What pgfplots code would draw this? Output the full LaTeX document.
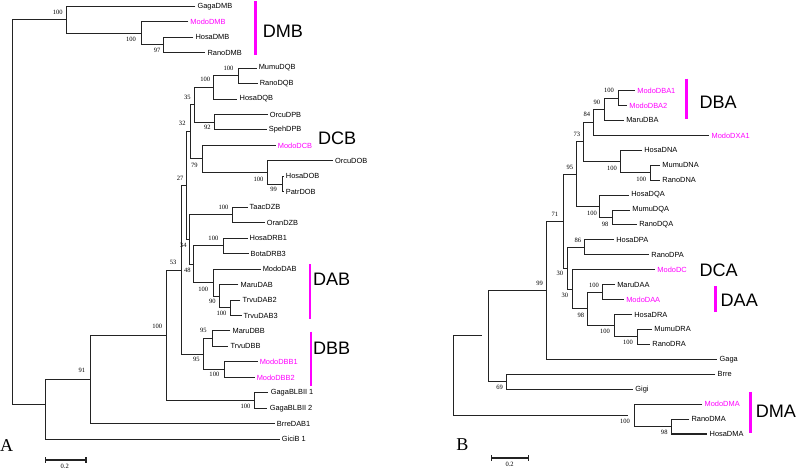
\documentclass[border=0pt]{standalone}
\usepackage{pgfplots}
\pgfplotsset{compat=1.18}
\usepackage{fontspec}
\setmainfont{Liberation Serif}
\newfontfamily\arial{Liberation Sans}
\definecolor{mg}{RGB}{255,0,255}
\definecolor{ln}{RGB}{35,35,35}
\tikzset{tip/.style={anchor=west,font=\arial\fontsize{7.4}{8}\selectfont,inner sep=0pt},
 tipm/.style={tip,text=mg},
 bs/.style={font=\fontsize{6.5}{7}\selectfont,inner sep=0pt},
 grp/.style={anchor=west,font=\arial\fontsize{18}{20}\selectfont,inner sep=0pt}}
\pgfplotsset{br/.style={no marks,line width=1pt,color=ln},
 bar/.style={no marks,line width=2.4pt,color=mg}}
\begin{document}
\begin{tikzpicture}
\begin{axis}[width=796pt,height=466pt,scale only axis,hide axis,
 xmin=0,xmax=796,ymin=0,ymax=466,y dir=reverse,clip=false]
% ---------------- tree A ----------------
\addplot[br] coordinates {(193,35.8)(163,35.8)(163,51.2)(205,51.2)};
\addplot[br] coordinates {(188,20.4)(141,20.4)(141,43.5)(163,43.5)};
\addplot[br] coordinates {(195,5)(67,5)(67,32)(141,32)};
\addplot[br] coordinates {(256,66.6)(238,66.6)(238,82)(257,82)};
\addplot[br] coordinates {(238,74.3)(213,74.3)(213,97.4)(237,97.4)};
\addplot[br] coordinates {(267,112.8)(214,112.8)(214,128.2)(266,128.2)};
\addplot[br] coordinates {(213,85.9)(194,85.9)(194,120.5)(214,120.5)};
\addplot[br] coordinates {(283,174.4)(282,174.4)(282,189.8)(283,189.8)};
\addplot[br] coordinates {(332,159)(267,159)(267,182.1)(282,182.1)};
\addplot[br] coordinates {(275,143.6)(202,143.6)(202,170.6)(267,170.6)};
\addplot[br] coordinates {(194,103.2)(190,103.2)(190,157.1)(202,157.1)};
\addplot[br] coordinates {(247,205.2)(232,205.2)(232,220.6)(264,220.6)};
\addplot[br] coordinates {(247,236)(223,236)(223,251.4)(248,251.4)};
\addplot[br] coordinates {(240,297.6)(230,297.6)(230,313)(241,313)};
\addplot[br] coordinates {(238,282.2)(219,282.2)(219,305.3)(230,305.3)};
\addplot[br] coordinates {(260,266.8)(213,266.8)(213,293.8)(219,293.8)};
\addplot[br] coordinates {(223,243.7)(193,243.7)(193,280.3)(213,280.3)};
\addplot[br] coordinates {(232,212.9)(189,212.9)(189,262)(193,262)};
\addplot[br] coordinates {(190,130.2)(186,130.2)(186,237.5)(189,237.5)};
\addplot[br] coordinates {(230,328.4)(212,328.4)(212,343.8)(228,343.8)};
\addplot[br] coordinates {(257,359.2)(224,359.2)(224,374.6)(254,374.6)};
\addplot[br] coordinates {(212,336.1)(203,336.1)(203,366.9)(224,366.9)};
\addplot[br] coordinates {(186,183.8)(181,183.8)(181,351.5)(203,351.5)};
\addplot[br] coordinates {(267,390)(254,390)(254,405.4)(266,405.4)};
\addplot[br] coordinates {(181,267.7)(166,267.7)(166,397.7)(254,397.7)};
\addplot[br] coordinates {(166,332.7)(91,332.7)(91,420.8)(274,420.8)};
\addplot[br] coordinates {(91,376.8)(46,376.8)(46,436.2)(279,436.2)};
\addplot[br] coordinates {(67,18.5)(13,18.5)(13,402)(46,402)};
% scale bar A
\addplot[br,line width=1.3pt] coordinates {(46,457)(86,457)};
\addplot[br,line width=1.3pt] coordinates {(46,454)(46,460)};
\addplot[br,line width=1.3pt] coordinates {(86,454)(86,460)};
% bars A
\addplot[bar] coordinates {(255,0)(255,54)};
\addplot[bar] coordinates {(309,262)(309,316)};
\addplot[bar] coordinates {(310,329)(310,383)};
% ---------------- tree B ----------------
\addplot[br] coordinates {(633,89)(616,89)(616,103.9)(625,103.9)};
\addplot[br] coordinates {(616,96.5)(602,96.5)(602,118.7)(622,118.7)};
\addplot[br] coordinates {(602,107.6)(592,107.6)(592,133.6)(707,133.6)};
\addplot[br] coordinates {(658,163.4)(648,163.4)(648,178.2)(658,178.2)};
\addplot[br] coordinates {(640,148.5)(618,148.5)(618,170.8)(648,170.8)};
\addplot[br] coordinates {(592,120.6)(582,120.6)(582,159.7)(618,159.7)};
\addplot[br] coordinates {(628,208)(610,208)(610,222.8)(635,222.8)};
\addplot[br] coordinates {(627,193.1)(598,193.1)(598,215.4)(610,215.4)};
\addplot[br] coordinates {(582,140.1)(575,140.1)(575,204.3)(598,204.3)};
\addplot[br] coordinates {(612,237.7)(583,237.7)(583,252.6)(647,252.6)};
\addplot[br] coordinates {(613,282.3)(600,282.3)(600,297.2)(622,297.2)};
\addplot[br] coordinates {(650,326.9)(635,326.9)(635,341.8)(648,341.8)};
\addplot[br] coordinates {(630,312.1)(612,312.1)(612,334.3)(635,334.3)};
\addplot[br] coordinates {(600,289.7)(586,289.7)(586,323.2)(612,323.2)};
\addplot[br] coordinates {(653,267.4)(571,267.4)(571,306.5)(586,306.5)};
\addplot[br] coordinates {(583,245.1)(566,245.1)(566,287)(571,287)};
\addplot[br] coordinates {(575,172.2)(562,172.2)(562,266)(566,266)};
\addplot[br] coordinates {(562,219.1)(545,219.1)(545,356.7)(715,356.7)};
\addplot[br] coordinates {(713,371.5)(505,371.5)(505,386.4)(631,386.4)};
\addplot[br] coordinates {(545,287.9)(487,287.9)(487,379)(505,379)};
\addplot[br] coordinates {(687,416.1)(669,416.1)(669,431)(705,431)};
\addplot[br] coordinates {(700,401.3)(632,401.3)(632,423.6)(669,423.6)};
\addplot[br] coordinates {(480,333.4)(452,333.4)(452,412.4)(626,412.4)};
% scale bar B
\addplot[br,line width=1.3pt] coordinates {(490,455)(527,455)};
\addplot[br,line width=1.3pt] coordinates {(490,452)(490,458)};
\addplot[br,line width=1.3pt] coordinates {(527,452)(527,458)};
% bars B
\addplot[bar] coordinates {(684,77)(684,117)};
\addplot[bar] coordinates {(713,284)(713,310)};
\addplot[bar] coordinates {(748,389)(748,430)};
% ---------------- labels A ----------------
\node[tip] at (axis cs:197,5) {GagaDMB};
\node[tipm] at (axis cs:190,20.4) {ModoDMB};
\node[tip] at (axis cs:195,35.8) {HosaDMB};
\node[tip] at (axis cs:207,51.2) {RanoDMB};
\node[tip] at (axis cs:258,66.6) {MumuDQB};
\node[tip] at (axis cs:259,82) {RanoDQB};
\node[tip] at (axis cs:239,97.4) {HosaDQB};
\node[tip] at (axis cs:269,112.8) {OrcuDPB};
\node[tip] at (axis cs:268,128.2) {SpehDPB};
\node[tipm] at (axis cs:277,143.6) {ModoDCB};
\node[tip] at (axis cs:334,159) {OrcuDOB};
\node[tip] at (axis cs:285,174.4) {HosaDOB};
\node[tip] at (axis cs:285,189.8) {PatrDOB};
\node[tip] at (axis cs:249,205.2) {TaacDZB};
\node[tip] at (axis cs:266,220.6) {OranDZB};
\node[tip] at (axis cs:249,236) {HosaDRB1};
\node[tip] at (axis cs:250,251.4) {BotaDRB3};
\node[tip] at (axis cs:262,266.8) {ModoDAB};
\node[tip] at (axis cs:240,282.2) {MaruDAB};
\node[tip] at (axis cs:242,297.6) {TrvuDAB2};
\node[tip] at (axis cs:243,313) {TrvuDAB3};
\node[tip] at (axis cs:232,328.4) {MaruDBB};
\node[tip] at (axis cs:230,343.8) {TrvuDBB};
\node[tipm] at (axis cs:259,359.2) {ModoDBB1};
\node[tipm] at (axis cs:256,374.6) {ModoDBB2};
\node[tip] at (axis cs:270,390) {GagaBLBII 1};
\node[tip] at (axis cs:269,405.4) {GagaBLBII 2};
\node[tip] at (axis cs:276,420.8) {BrreDAB1};
\node[tip] at (axis cs:281,436.2) {GiciB 1};
% bootstrap A
\node[bs] at (axis cs:58,11) {100};
\node[bs] at (axis cs:131,38) {100};
\node[bs] at (axis cs:157,49) {97};
\node[bs] at (axis cs:228,67) {100};
\node[bs] at (axis cs:205,78) {100};
\node[bs] at (axis cs:187,96) {35};
\node[bs] at (axis cs:207,126) {92};
\node[bs] at (axis cs:182,122) {32};
\node[bs] at (axis cs:194,163) {79};
\node[bs] at (axis cs:258,177) {100};
\node[bs] at (axis cs:273,187) {99};
\node[bs] at (axis cs:180,176) {27};
\node[bs] at (axis cs:223,205) {100};
\node[bs] at (axis cs:183,243) {34};
\node[bs] at (axis cs:213,236) {100};
\node[bs] at (axis cs:187,268) {48};
\node[bs] at (axis cs:203,287) {100};
\node[bs] at (axis cs:212,299) {90};
\node[bs] at (axis cs:221,311) {100};
\node[bs] at (axis cs:173,260) {53};
\node[bs] at (axis cs:203,328) {95};
\node[bs] at (axis cs:196,357) {95};
\node[bs] at (axis cs:214,372) {100};
\node[bs] at (axis cs:157,324) {100};
\node[bs] at (axis cs:245,403) {100};
\node[bs] at (axis cs:82,368) {91};
\node[bs] at (axis cs:65,463) {0.2};
% groups A
\node[grp] at (axis cs:262,30) {DMB};
\node[grp] at (axis cs:317,137) {DCB};
\node[grp] at (axis cs:312,277) {DAB};
\node[grp] at (axis cs:312,346) {DBB};
\node[font=\fontsize{18}{20}\selectfont,inner sep=0pt] at (axis cs:7,442) {A};
% ---------------- labels B ----------------
\node[tipm] at (axis cs:635,89) {ModoDBA1};
\node[tipm] at (axis cs:627,103.9) {ModoDBA2};
\node[tip] at (axis cs:624,118.7) {MaruDBA};
\node[tipm] at (axis cs:709,133.6) {ModoDXA1};
\node[tip] at (axis cs:642,148.5) {HosaDNA};
\node[tip] at (axis cs:660,163.4) {MumuDNA};
\node[tip] at (axis cs:660,178.2) {RanoDNA};
\node[tip] at (axis cs:629,193.1) {HosaDQA};
\node[tip] at (axis cs:630,208) {MumuDQA};
\node[tip] at (axis cs:637,222.8) {RanoDQA};
\node[tip] at (axis cs:614,237.7) {HosaDPA};
\node[tip] at (axis cs:649,252.6) {RanoDPA};
\node[tipm] at (axis cs:655,267.4) {ModoDC};
\node[tip] at (axis cs:615,282.3) {MaruDAA};
\node[tipm] at (axis cs:624,297.2) {ModoDAA};
\node[tip] at (axis cs:632,312.1) {HosaDRA};
\node[tip] at (axis cs:652,326.9) {MumuDRA};
\node[tip] at (axis cs:650,341.8) {RanoDRA};
\node[tip] at (axis cs:717,356.7) {Gaga};
\node[tip] at (axis cs:715,371.5) {Brre};
\node[tip] at (axis cs:633,386.4) {Gigi};
\node[tipm] at (axis cs:702,401.3) {ModoDMA};
\node[tip] at (axis cs:689,416.1) {RanoDMA};
\node[tip] at (axis cs:707,431) {HosaDMA};
% bootstrap B
\node[bs] at (axis cs:607,89) {100};
\node[bs] at (axis cs:595,101) {90};
\node[bs] at (axis cs:585,113) {84};
\node[bs] at (axis cs:575,133) {73};
\node[bs] at (axis cs:610,166) {100};
\node[bs] at (axis cs:639,177) {100};
\node[bs] at (axis cs:568,165) {95};
\node[bs] at (axis cs:590,211) {100};
\node[bs] at (axis cs:603,222) {98};
\node[bs] at (axis cs:553,212) {71};
\node[bs] at (axis cs:576,238) {86};
\node[bs] at (axis cs:558,271) {30};
\node[bs] at (axis cs:563,293) {30};
\node[bs] at (axis cs:592,283) {100};
\node[bs] at (axis cs:579,313) {98};
\node[bs] at (axis cs:603,329) {100};
\node[bs] at (axis cs:626,340) {100};
\node[bs] at (axis cs:538,281) {99};
\node[bs] at (axis cs:498,385) {69};
\node[bs] at (axis cs:623,418) {100};
\node[bs] at (axis cs:662,429) {98};
\node[bs] at (axis cs:508,461) {0.2};
% groups B
\node[grp] at (axis cs:697,101) {DBA};
\node[grp] at (axis cs:697,268) {DCA};
\node[grp] at (axis cs:718,298) {DAA};
\node[grp] at (axis cs:753,408) {DMA};
\node[font=\fontsize{18}{20}\selectfont,inner sep=0pt] at (axis cs:461,442) {B};
\end{axis}
\end{tikzpicture}
\end{document}
